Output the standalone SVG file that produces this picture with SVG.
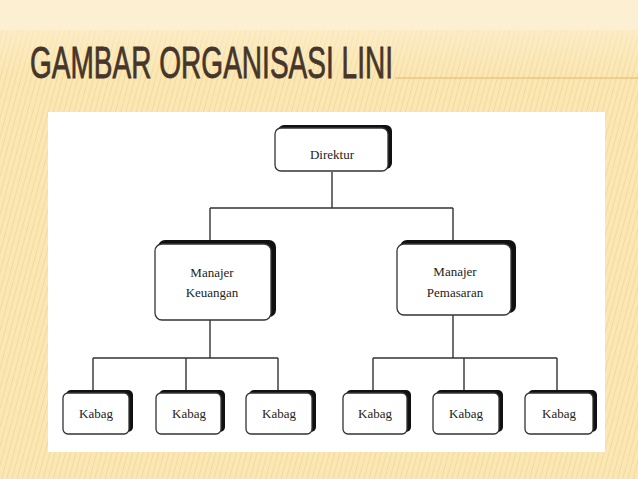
<svg xmlns="http://www.w3.org/2000/svg" width="638" height="479" viewBox="0 0 638 479">
<defs>
<pattern id="stripes" width="5" height="5" patternUnits="userSpaceOnUse" patternTransform="rotate(15)">
<rect width="5" height="5" fill="#fbe7b4"/>
<line x1="0" y1="0" x2="0" y2="5" stroke="#f2d796" stroke-width="1.6"/>
</pattern>
<linearGradient id="fade" x1="0" y1="0" x2="0" y2="1">
<stop offset="0" stop-color="#fdf0d2" stop-opacity="1"/>
<stop offset="1" stop-color="#fdf0d2" stop-opacity="0"/>
</linearGradient>
<style>
.box{fill:#fff;stroke:#333;stroke-width:1.3}
.shadow{fill:#111}
.lbl{font-family:"Liberation Serif","Times New Roman",serif;font-size:13px;fill:#222;text-anchor:middle}
.conn{stroke:#333;stroke-width:1.4;fill:none}
</style>
</defs>
<rect width="638" height="479" fill="url(#stripes)"/>
<rect width="638" height="75" fill="url(#fade)"/>
<rect x="0" y="0" width="638" height="30" fill="#fdf0d2"/>
<line x1="395" y1="78" x2="638" y2="78" stroke="#e4b668" stroke-width="1.2"/>
<text x="30" y="78" font-family="'Liberation Sans Narrow','Liberation Sans',Arial,sans-serif" font-size="44" fill="#45352a" stroke="#45352a" stroke-width="0.8" textLength="363" lengthAdjust="spacingAndGlyphs">GAMBAR ORGANISASI LINI</text>
<rect x="48" y="112" width="557" height="340" fill="#fff"/>
<g id="connectors">
<path class="conn" d="M332 172V208M210 208H453M210 208V244M453 208V244"/>
<path class="conn" d="M210 320V358M93 358H278M93 358V393M186 358V393M278 358V393"/>
<path class="conn" d="M453 315V358M373 358H557M373 358V393M464 358V393M557 358V393"/>
</g>
<g id="direktur">
<rect class="shadow" x="278" y="125" width="114" height="44" rx="6"/>
<rect class="box" x="275" y="128" width="113" height="43" rx="6"/>
<text class="lbl" x="332" y="159">Direktur</text>
</g>
<g id="manajer-keuangan">
<rect class="shadow" x="158" y="240" width="118" height="77" rx="7"/>
<rect class="box" x="155" y="244" width="116" height="76" rx="7"/>
<text class="lbl" x="212" y="277">Manajer</text>
<text class="lbl" x="212" y="297">Keuangan</text>
</g>
<g id="manajer-pemasaran">
<rect class="shadow" x="400" y="240" width="116" height="73" rx="7"/>
<rect class="box" x="397" y="244" width="114" height="71" rx="7"/>
<text class="lbl" x="455" y="276">Manajer</text>
<text class="lbl" x="455" y="297">Pemasaran</text>
</g>
<g id="kabag1">
<rect class="shadow" x="66" y="390" width="67" height="42" rx="5"/>
<rect class="box" x="63" y="393" width="66" height="41" rx="5"/>
<text class="lbl" x="96" y="418">Kabag</text>
</g>
<g id="kabag2">
<rect class="shadow" x="159" y="390" width="66" height="42" rx="5"/>
<rect class="box" x="156" y="393" width="65" height="41" rx="5"/>
<text class="lbl" x="189" y="418">Kabag</text>
</g>
<g id="kabag3">
<rect class="shadow" x="249" y="390" width="67" height="42" rx="5"/>
<rect class="box" x="246" y="393" width="66" height="41" rx="5"/>
<text class="lbl" x="279" y="418">Kabag</text>
</g>
<g id="kabag4">
<rect class="shadow" x="346" y="390" width="65" height="42" rx="5"/>
<rect class="box" x="343" y="393" width="64" height="41" rx="5"/>
<text class="lbl" x="375" y="418">Kabag</text>
</g>
<g id="kabag5">
<rect class="shadow" x="436" y="390" width="67" height="42" rx="5"/>
<rect class="box" x="433" y="393" width="66" height="41" rx="5"/>
<text class="lbl" x="466" y="418">Kabag</text>
</g>
<g id="kabag6">
<rect class="shadow" x="528" y="390" width="69" height="42" rx="5"/>
<rect class="box" x="525" y="393" width="68" height="41" rx="5"/>
<text class="lbl" x="559" y="418">Kabag</text>
</g>
</svg>
